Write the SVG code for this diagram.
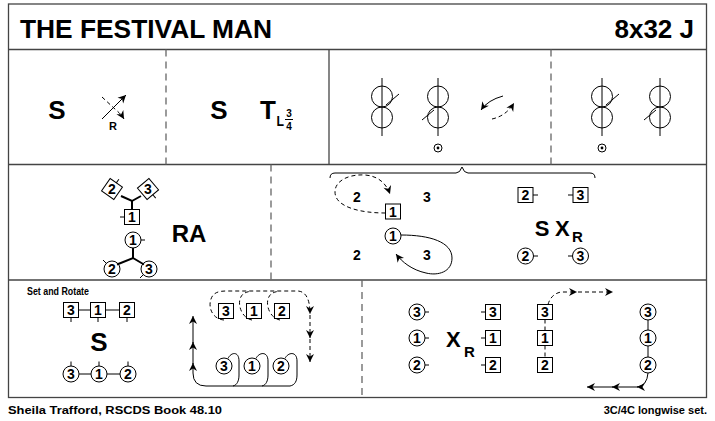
<svg xmlns="http://www.w3.org/2000/svg" width="715" height="421" viewBox="0 0 715 421">
<style>
.fr{fill:none;stroke:#444;stroke-width:1.3}
.dv{fill:none;stroke:#666;stroke-width:1.3;stroke-dasharray:7,5}
.ln{fill:none;stroke:#000;stroke-width:1}
.th{fill:none;stroke:#000;stroke-width:2}
.ds{fill:none;stroke:#000;stroke-width:1;stroke-dasharray:4,3}
.bx{fill:#fff;stroke:#000;stroke-width:1}
.t{font-family:"Liberation Sans",Arial,sans-serif;font-weight:bold;fill:#000}
.n{font-family:"Liberation Sans",Arial,sans-serif;font-weight:bold;font-size:14px;text-anchor:middle;fill:#000}
.big{font-size:26px;text-anchor:middle}
</style>
<defs>
<marker id="ah" viewBox="-10 -5 11 10" refX="0" refY="0" markerWidth="11" markerHeight="10" markerUnits="userSpaceOnUse" orient="auto"><path d="M0,0 L-8,-4 L-5.5,0 L-8,4 Z" fill="#000"/></marker>
<g id="f8"><circle cx="0" cy="-10.5" r="10.5" class="ln"/><circle cx="0" cy="10.5" r="10.5" class="ln"/><line x1="0" y1="-29" x2="0" y2="29" class="ln"/></g>
<g id="cd"><circle cx="0" cy="0" r="4" class="ln"/><circle cx="0" cy="0" r="1.4" fill="#000"/></g>
</defs>
<rect width="715" height="421" fill="#fff"/>
<g id="frame">
<rect x="8.5" y="4" width="698" height="393.5" class="fr"/>
<line x1="8.5" y1="49.5" x2="706.5" y2="49.5" class="fr"/>
<line x1="8.5" y1="164.5" x2="706.5" y2="164.5" class="fr"/>
<line x1="8.5" y1="280" x2="706.5" y2="280" class="fr"/>
<line x1="166" y1="49.5" x2="166" y2="164.5" class="dv"/>
<line x1="329" y1="49.5" x2="329" y2="164.5" class="fr"/>
<line x1="551" y1="49.5" x2="551" y2="164.5" class="dv"/>
<line x1="271" y1="164.5" x2="271" y2="280" class="dv"/>
<line x1="362" y1="280" x2="362" y2="397.5" class="dv"/>
</g>
<g id="title">
<text x="20" y="38" class="t" font-size="26" textLength="252" lengthAdjust="spacingAndGlyphs">THE FESTIVAL MAN</text>
<text x="694" y="38" class="t" font-size="26" text-anchor="end">8x32 J</text>
</g>
<g id="footer">
<text x="8" y="414" class="t" font-size="11" textLength="214" lengthAdjust="spacingAndGlyphs">Sheila Trafford, RSCDS Book 48.10</text>
<text x="707" y="414" class="t" font-size="11" text-anchor="end">3C/4C longwise set.</text>
</g>
<g id="r1-set1"><text x="57" y="119" class="t big">S</text></g>
<g id="r1-petronella">
<line x1="102" y1="119" x2="126" y2="95" class="ln" marker-end="url(#ah)"/>
<path d="M102,97 L116,110 Q121,114 124,119" class="ds" marker-end="url(#ah)"/>
<text x="113" y="130" class="t" font-size="11" text-anchor="middle">R</text>
</g>
<g id="r1-set2"><text x="219" y="119" class="t big">S</text></g>
<g id="r1-turn">
<text x="260" y="119" class="t" font-size="26">T</text>
<text x="276.5" y="126" class="t" font-size="15" textLength="7.5" lengthAdjust="spacingAndGlyphs">L</text>
<text x="289" y="117" class="t" font-size="10" text-anchor="middle">3</text>
<line x1="285" y1="119.5" x2="293" y2="119.5" class="ln"/>
<text x="289" y="130" class="t" font-size="10" text-anchor="middle">4</text>
</g>
<g id="r1-f8a"><use href="#f8" x="382" y="107"/><line x1="386" y1="105" x2="399" y2="94" class="ln"/></g>
<g id="r1-f8b"><use href="#f8" x="438" y="107"/><line x1="422" y1="120" x2="434" y2="110" class="ln"/><use href="#cd" x="438" y="148"/></g>
<g id="r1-f8c"><use href="#f8" x="602" y="107"/><line x1="606" y1="105" x2="619" y2="94" class="ln"/><use href="#cd" x="602" y="148"/></g>
<g id="r1-f8d"><use href="#f8" x="660" y="107"/><line x1="644" y1="120" x2="656" y2="110" class="ln"/></g>
<g id="r2-d2"><rect x="-7.5" y="-7.5" width="15" height="15" class="bx" transform="translate(112,189) rotate(35)"/><line x1="0" y1="-7.5" x2="0" y2="-12" class="ln" transform="translate(112,189) rotate(35)"/><text x="112" y="194" class="n">2</text></g>
<g id="r2-d3"><rect x="-7.5" y="-7.5" width="15" height="15" class="bx" transform="translate(148,189) rotate(-40)"/><line x1="0" y1="7.5" x2="0" y2="12" class="ln" transform="translate(148,189) rotate(-40)"/><text x="148" y="194" class="n">3</text></g>
<g id="r2-b1"><rect x="124.5" y="209.5" width="15" height="15" class="bx"/><line x1="120" y1="217" x2="124.5" y2="217" class="ln"/><text x="132" y="222" class="n">1</text></g>
<g id="r2-ra"><text x="189" y="242" class="t" font-size="24" text-anchor="middle">RA</text></g>
<g id="r2-c1"><circle cx="133" cy="240" r="8" class="bx"/><line x1="141" y1="240" x2="145" y2="240" class="ln"/><text x="133" y="245" class="n">1</text></g>
<g id="r2-c2"><circle cx="112" cy="269" r="8" class="bx"/><line x1="106.5" y1="263.5" x2="103" y2="260" class="ln"/><text x="112" y="274" class="n">2</text></g>
<g id="r2-c3"><circle cx="149" cy="269" r="8" class="bx"/><line x1="143.5" y1="274.5" x2="140" y2="278" class="ln"/><text x="149" y="274" class="n">3</text></g>
<g id="r2-bracket"><path d="M330,178 Q330,173 335,173 L456,173 Q460,173 462,167 Q464,173 468,173 L590,173 Q595,173 595,178" class="ln"/></g>
<g id="r2-n2a"><text x="357" y="202" class="n" font-size="15">2</text></g>
<g id="r2-n3a"><text x="427" y="202" class="n" font-size="15">3</text></g>
<g id="r2-b1r"><rect x="385.5" y="204" width="15" height="15" class="bx"/><text x="393" y="216.5" class="n">1</text></g>
<g id="r2-c1r"><circle cx="393" cy="236" r="8" class="bx"/><text x="393" y="241" class="n">1</text></g>
<g id="r2-n2b"><text x="357" y="260" class="n" font-size="15">2</text></g>
<g id="r2-n3b"><text x="427" y="260" class="n" font-size="15">3</text></g>
<g id="r2-sx"><text x="542" y="236" class="t" font-size="22" text-anchor="middle">S</text><text x="555" y="236" class="t" font-size="22">X</text><text x="572" y="242" class="t" font-size="15">R</text></g>
<g id="r2-b2"><rect x="518" y="187.5" width="15" height="15" class="bx"/><line x1="533" y1="195" x2="538" y2="195" class="ln"/><text x="525.5" y="200" class="n">2</text></g>
<g id="r2-b3"><rect x="573" y="187.5" width="15" height="15" class="bx"/><line x1="568" y1="195" x2="573" y2="195" class="ln"/><text x="580.5" y="200" class="n">3</text></g>
<g id="r2-c2r"><circle cx="525.5" cy="256" r="8" class="bx"/><line x1="533.5" y1="256" x2="538" y2="256" class="ln"/><text x="525.5" y="261" class="n">2</text></g>
<g id="r2-c3r"><circle cx="580.5" cy="256" r="8" class="bx"/><line x1="568" y1="256" x2="572.5" y2="256" class="ln"/><text x="580.5" y="261" class="n">3</text></g>
<g id="r3-label"><text x="27" y="295" class="t" font-size="11.5" textLength="62" lengthAdjust="spacingAndGlyphs">Set and Rotate</text></g>
<g id="r3-b3"><rect x="63.5" y="302.5" width="15" height="15" class="bx"/><line x1="71" y1="317.5" x2="71" y2="322" class="ln"/><text x="71" y="315" class="n">3</text></g>
<g id="r3-b1"><rect x="90.5" y="302.5" width="15" height="15" class="bx"/><line x1="98" y1="317.5" x2="98" y2="322" class="ln"/><text x="98" y="315" class="n">1</text></g>
<g id="r3-b2"><rect x="119.5" y="302.5" width="15" height="15" class="bx"/><line x1="127" y1="317.5" x2="127" y2="322" class="ln"/><text x="127" y="315" class="n">2</text></g>
<g id="r3-s"><text x="99" y="351" class="t big">S</text></g>
<g id="r3-c3"><circle cx="71" cy="374" r="8" class="bx"/><line x1="71" y1="366" x2="71" y2="361.5" class="ln"/><text x="71" y="379" class="n">3</text></g>
<g id="r3-c1"><circle cx="99" cy="374" r="8" class="bx"/><line x1="99" y1="366" x2="99" y2="361.5" class="ln"/><text x="99" y="379" class="n">1</text></g>
<g id="r3-c2"><circle cx="128" cy="374" r="8" class="bx"/><line x1="128" y1="366" x2="128" y2="361.5" class="ln"/><text x="128" y="379" class="n">2</text></g>
<g id="r3-mb3"><rect x="218.5" y="303.5" width="15" height="15" class="bx"/><text x="226" y="316" class="n">3</text></g>
<g id="r3-mb1"><rect x="246.5" y="303.5" width="15" height="15" class="bx"/><text x="254" y="316" class="n">1</text></g>
<g id="r3-mb2"><rect x="274.5" y="303.5" width="15" height="15" class="bx"/><text x="282" y="316" class="n">2</text></g>
<g id="r3-mc3"><circle cx="224" cy="366" r="8" class="bx"/><text x="224" y="371" class="n">3</text></g>
<g id="r3-mc1"><circle cx="252" cy="366" r="8" class="bx"/><text x="252" y="371" class="n">1</text></g>
<g id="r3-mc2"><circle cx="281" cy="366" r="8" class="bx"/><text x="281" y="371" class="n">2</text></g>
<g id="r3-rc3"><circle cx="417" cy="312" r="8" class="bx"/><line x1="425" y1="312" x2="429" y2="312" class="ln"/><text x="417" y="317" class="n">3</text></g>
<g id="r3-rc1"><circle cx="417" cy="338" r="8" class="bx"/><line x1="425" y1="338" x2="429" y2="338" class="ln"/><text x="417" y="343" class="n">1</text></g>
<g id="r3-rc2"><circle cx="417" cy="365" r="8" class="bx"/><line x1="425" y1="365" x2="429" y2="365" class="ln"/><text x="417" y="370" class="n">2</text></g>
<g id="r3-xr"><text x="446" y="347" class="t" font-size="22">X</text><text x="464" y="357" class="t" font-size="15">R</text></g>
<g id="r3-rb3"><rect x="485.5" y="304.5" width="15" height="15" class="bx"/><line x1="481" y1="312" x2="485.5" y2="312" class="ln"/><text x="493" y="317" class="n">3</text></g>
<g id="r3-rb1"><rect x="485.5" y="330.5" width="15" height="15" class="bx"/><line x1="481" y1="338" x2="485.5" y2="338" class="ln"/><text x="493" y="343" class="n">1</text></g>
<g id="r3-rb2"><rect x="485.5" y="357.5" width="15" height="15" class="bx"/><line x1="481" y1="365" x2="485.5" y2="365" class="ln"/><text x="493" y="370" class="n">2</text></g>
<g id="r3-fb3"><rect x="537.5" y="304.5" width="15" height="15" class="bx"/><text x="545" y="317" class="n">3</text></g>
<g id="r3-fb1"><rect x="537.5" y="330.5" width="15" height="15" class="bx"/><text x="545" y="343" class="n">1</text></g>
<g id="r3-fb2"><rect x="537.5" y="357.5" width="15" height="15" class="bx"/><text x="545" y="370" class="n">2</text></g>
<g id="r3-fc3"><circle cx="648" cy="312" r="8" class="bx"/><text x="648" y="317" class="n">3</text></g>
<g id="r3-fc1"><circle cx="648" cy="338" r="8" class="bx"/><text x="648" y="343" class="n">1</text></g>
<g id="r3-fc2"><circle cx="648" cy="365" r="8" class="bx"/><text x="648" y="370" class="n">2</text></g>
<g id="connectors">
<path d="M503,96 Q488,100 481,110" class="ln" stroke-width="1.3" marker-end="url(#ah)"/>
<path d="M492,119 Q506,116 514,103" class="ds" stroke-width="1.3" marker-end="url(#ah)"/>
<polyline points="121,196 132,201 141,196" class="th"/>
<line x1="132" y1="201" x2="132" y2="209.5" class="th"/>
<line x1="133" y1="248" x2="133" y2="258" class="th"/>
<polyline points="117,264.5 133,258 144,264.5" class="th"/>
<path d="M385.5,213 C360,213 335,207 335,192 C335,180 350,174 365,175 C378,176 386,183 390,194" class="ds" marker-end="url(#ah)"/>
<path d="M401,235 C430,235 452,242 452,258 C452,272 438,276 426,273 C412,270 402,262 396,254" class="ln" marker-end="url(#ah)"/>
<line x1="78.5" y1="310" x2="90.5" y2="310" class="ln"/>
<line x1="105.5" y1="310" x2="119.5" y2="310" class="ln"/>
<line x1="79" y1="374" x2="91" y2="374" class="ln"/>
<line x1="107" y1="374" x2="120" y2="374" class="ln"/>
<path d="M224,320 C212,319 208,307 211,299 C213,293 218,291 226,291 L298,291 Q310,292 310,314" class="ds" marker-end="url(#ah)"/>
<path d="M252,320 C242,318 238,306 240,299 C242,293 246,292 252,291" class="ds"/>
<path d="M280,320 C270,318 266,306 268,299 C270,293 274,292 280,291" class="ds"/>
<path d="M310,315 L310,338" class="ds" marker-end="url(#ah)"/>
<path d="M310,339 L310,362" class="ds" marker-end="url(#ah)"/>
<path d="M228,358.5 C231,352 239,351 239,361 L239,375 C239,381 237,385 233,386" class="ln"/>
<path d="M256,358.5 C259,352 268,351 268,361 L268,375 C268,381 266,385 262,386" class="ln"/>
<path d="M285,358.5 C288,352 297,351 297,361 L297,375 C297,381 295,385 290,386 L206,386 Q193,386 193,373 L193,363" class="ln" marker-end="url(#ah)"/>
<path d="M193,364 L193,342" class="ln" marker-end="url(#ah)"/>
<path d="M193,343 L193,316" class="ln" marker-end="url(#ah)"/>
<line x1="545" y1="319.5" x2="545" y2="330.5" class="ds"/>
<line x1="545" y1="345.5" x2="545" y2="357.5" class="ds"/>
<line x1="648" y1="320" x2="648" y2="330" class="ln"/>
<line x1="648" y1="346" x2="648" y2="357" class="ln"/>
<path d="M548,304.5 Q551,294 561,292 L577,292" class="ds" marker-end="url(#ah)"/>
<path d="M578,292 L613,292" class="ds" marker-end="url(#ah)"/>
<path d="M648,373 Q647,386 637,387 L612,387" class="ln" marker-end="url(#ah)"/>
<path d="M613,387 L587,387" class="ln" marker-end="url(#ah)"/>
<path d="M638,387 L637,387" class="ln" marker-end="url(#ah)"/>
</g>
</svg>
